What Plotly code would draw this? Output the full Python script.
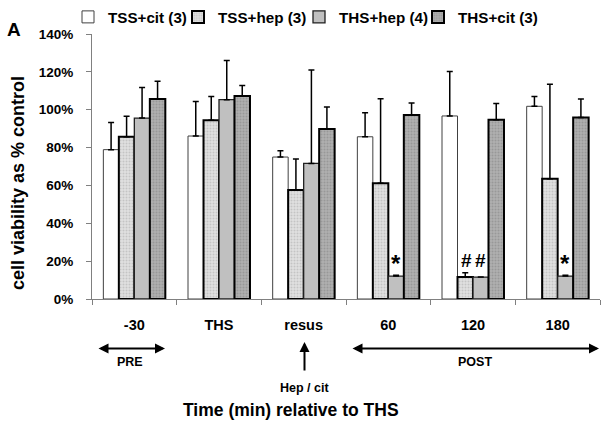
import plotly.graph_objects as go

categories = ["-30", "THS", "resus", "60", "120", "180"]
series_names = ["TSS+cit (3)", "TSS+hep (3)", "THS+hep (4)", "THS+cit (3)"]
tss_cit = [78.9, 86.1, 75.0, 85.7, 96.7, 101.8]
tss_cit_err = [14.4, 18.3, 3.3, 12.7, 23.5, 5.2]
tss_hep = [85.7, 94.5, 57.6, 61.1, 11.6, 63.5]
tss_hep_err = [10.8, 12.5, 16.4, 44.7, 2.3, 50.0]
ths_hep = [95.6, 105.3, 71.6, 12.1, 11.6, 12.1]
ths_hep_err = [16.2, 20.7, 49.4, 0.5, 0.0, 0.5]
ths_cit = [105.6, 107.2, 89.8, 97.2, 94.7, 95.9]
ths_cit_err = [9.4, 5.6, 11.6, 6.3, 8.6, 9.7]
y_ticks = [0, 20, 40, 60, 80, 100, 120, 140]

values = [tss_cit, tss_hep, ths_hep, ths_cit]
errors = [tss_cit_err, tss_hep_err, ths_hep_err, ths_cit_err]
styles = [
    dict(color="#ffffff", line=dict(color="#404040", width=1)),
    dict(color="#dcdcdc", line=dict(color="#000000", width=2),
         pattern=dict(shape=".", fgcolor="#a8a8a8", bgcolor="#e0e0e0", size=3, solidity=0.35)),
    dict(color="#c0c0c0", line=dict(color="#202020", width=1.3)),
    dict(color="#a6a6a6", line=dict(color="#000000", width=2),
         pattern=dict(shape=".", fgcolor="#808080", bgcolor="#b0b0b0", size=3, solidity=0.35)),
]
legend_ids = ["legend", "legend2", "legend3", "legend4"]

W, H = 607, 424
L, R, T, B = 92, 7, 34, 125
PW, PH = W - L - R, H - T - B

fig = go.Figure()
for name, v, e, st, lg in zip(series_names, values, errors, styles, legend_ids):
    fig.add_trace(go.Bar(
        name=name, x=categories, y=v, marker=st, legend=lg,
        error_y=dict(type="data", array=e, arrayminus=[0] * len(e), symmetric=False,
                     color="#000000", thickness=1.5, width=3),
    ))

F = "Liberation Sans, Arial, sans-serif"
bold = dict(family=F, weight="bold")

def px_x(p):
    return (p - L) / PW

def px_y(p):
    return (T + PH - p) / PH

legend_text_x = [110, 220, 341, 460]
legends = {}
for lg, tx in zip(legend_ids, legend_text_x):
    legends[lg] = dict(orientation="h", x=(tx - 42) / W, xref="container", xanchor="left",
                       y=1 - 17 / H, yref="container", yanchor="middle",
                       font=dict(size=15.2, **bold), itemwidth=30,
                       bgcolor="rgba(0,0,0,0)")

fig.update_layout(
    width=W, height=H,
    margin=dict(l=L, r=R, t=T, b=B, autoexpand=False),
    plot_bgcolor="white", paper_bgcolor="white",
    barmode="group", bargap=0.268, bargroupgap=0,
    font=dict(family=F, size=13, color="black"),
    showlegend=True,
    xaxis=dict(type="category", range=[-0.5, 5.5], showline=True, linecolor="#808080", linewidth=1,
               ticks="outside", tickson="boundaries", ticklen=5, tickcolor="#808080",
               tickfont=dict(size=14.5, **bold), ticklabelstandoff=13,
               showgrid=False, zeroline=False),
    yaxis=dict(range=[0, 140], tickvals=y_ticks, ticktext=[f"{t}%" for t in y_ticks],
               showline=True, linecolor="#808080", linewidth=1, ticks="outside",
               ticklen=5, tickcolor="#808080", showgrid=False, zeroline=False,
               tickfont=dict(size=13.5, **bold), ticklabelstandoff=10),
    **legends,
)

ann = []
# significance marks (x given as category index)
ann.append(dict(x=3, y=ths_hep[3] + ths_hep_err[3], xref="x", yref="y", xshift=7.75,
                text="*", showarrow=False, yanchor="bottom", yshift=-4,
                font=dict(size=24, **bold)))
ann.append(dict(x=4, y=tss_hep[4] + tss_hep_err[4], xref="x", yref="y", xshift=-7,
                text="#", showarrow=False, yanchor="bottom", yshift=0,
                font=dict(size=19, **bold)))
ann.append(dict(x=4, y=tss_hep[4] + tss_hep_err[4], xref="x", yref="y", xshift=7,
                text="#", showarrow=False, yanchor="bottom", yshift=0,
                font=dict(size=19, **bold)))
ann.append(dict(x=5, y=ths_hep[5] + ths_hep_err[5], xref="x", yref="y", xshift=7.75,
                text="*", showarrow=False, yanchor="bottom", yshift=-4,
                font=dict(size=24, **bold)))

def label(x, y, text, size, angle=0):
    return dict(xref="paper", yref="paper", x=px_x(x), y=px_y(y), text=text,
                xanchor="center", yanchor="middle", showarrow=False, textangle=angle,
                font=dict(size=size, **bold))

# PRE arrow
ann.append(dict(xref="paper", yref="paper", x=px_x(165), y=px_y(348.5), ax=-68, ay=0,
                axref="pixel", ayref="pixel", text="", showarrow=True,
                arrowhead=2, arrowside="end+start", arrowwidth=2, arrowsize=1, arrowcolor="black"))
ann.append(label(130, 362, "PRE", 12.5))
# POST arrow
ann.append(dict(xref="paper", yref="paper", x=px_x(599), y=px_y(348.5), ax=-248, ay=0,
                axref="pixel", ayref="pixel", text="", showarrow=True,
                arrowhead=2, arrowside="end+start", arrowwidth=2, arrowsize=1, arrowcolor="black"))
ann.append(label(475, 362, "POST", 12.5))
# resus arrow
ann.append(dict(xref="paper", yref="paper", x=px_x(304.5), y=px_y(342), ax=0, ay=30,
                axref="pixel", ayref="pixel", text="", showarrow=True,
                arrowhead=2, arrowwidth=2, arrowsize=1, arrowcolor="black"))
ann.append(label(304.5, 387.5, "Hep / cit", 12.5))
# axis titles
ann.append(label(291, 410, "Time (min) relative to THS", 17.5))
ann.append(label(18, 183, "cell viability as % control", 18, angle=-90))
# panel label
ann.append(label(14, 29, "A", 19))
fig.update_layout(annotations=ann)

fig.write_html("out.html", post_script="document.body.style.margin='0';",
               config={"displayModeBar": False})
